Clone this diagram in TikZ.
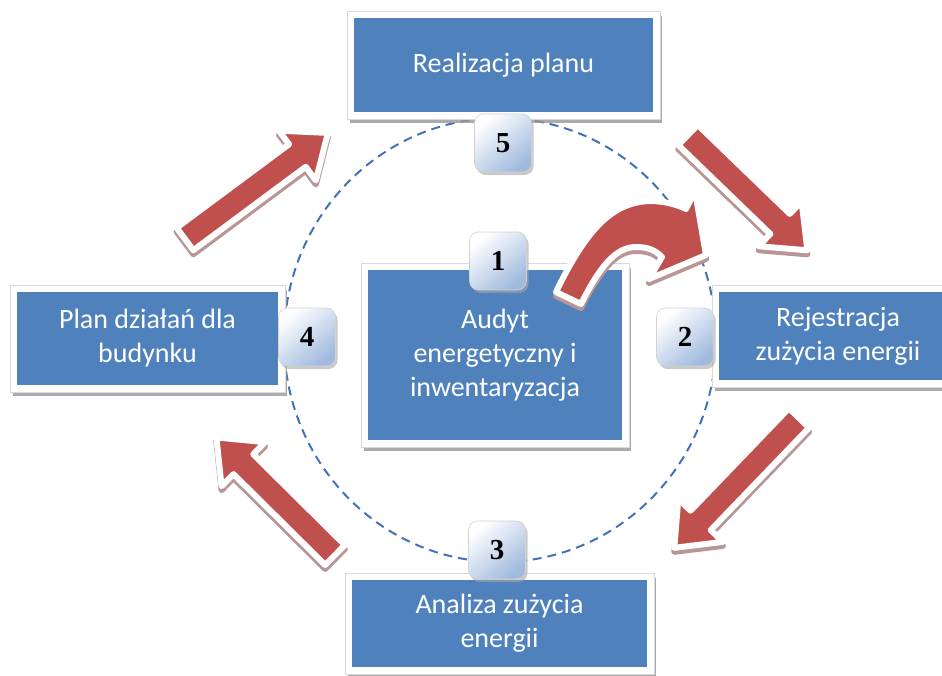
\documentclass[tikz,border=0pt]{standalone}
\usepackage{fontspec}
\setmainfont{Carlito}
\newfontfamily\numfont{Liberation Serif}
\usetikzlibrary{backgrounds,shadows}

\definecolor{boxblue}{RGB}{79,129,189}
\definecolor{arrowred}{RGB}{192,80,77}
\definecolor{ringblue}{RGB}{66,114,186}
\definecolor{badgeblue}{RGB}{160,186,222}
\definecolor{arrowshade}{RGB}{185,150,150}
\definecolor{frameshade}{RGB}{150,150,150}

% straight block arrow: #1 tail, #2 direction (degrees), #3 length
\newcommand\blockarrow[3]{%
  \foreach \layer/\dy in {shade/-4pt, main/0pt}{%
    \begin{scope}[shift={(#1)}, yshift=\dy, rotate=#2, x=1pt, y=1pt]
      \path[arrow\layer]
        (0,-14) -- ({#3-38},-14) -- ({#3-38},-31) -- (#3,0)
        -- ({#3-38},31) -- ({#3-38},14) -- (0,14) -- cycle;
    \end{scope}}}

% frame and drop shadow behind a box node
\newcommand\stageframe[1]{%
  \fill[frameshade, opacity=0.8] ([xshift=-4pt,yshift=2pt]#1.north west)
    rectangle ([xshift=9pt,yshift=-11pt]#1.south east);
  \filldraw[fill=white, draw=gray!30, line width=0.6pt]
    ([xshift=-7pt,yshift=7pt]#1.north west)
    rectangle ([xshift=7pt,yshift=-7pt]#1.south east);}

\begin{document}
\begin{tikzpicture}[x=1pt, y=-1pt,
  bluebox/.style={fill=boxblue, text=white, align=center, inner sep=0pt,
    font=\fontsize{28}{34}\selectfont},
  badge/.style={rounded corners=9pt, minimum width=57pt, minimum height=58pt,
    inner sep=0pt, draw=gray!35, line width=0.6pt,
    top color=white, bottom color=badgeblue, shading angle=40,
    drop shadow={shadow xshift=2pt, shadow yshift=-3pt, fill=gray!70, opacity=0.6},
    font=\numfont\bfseries\fontsize{29}{29}\selectfont},
  arrowmain/.style={fill=arrowred, draw=white, line width=6pt, line join=round},
  arrowshade/.style={fill=arrowshade, draw=arrowshade, line width=6pt, line join=round},
  ring/.style={draw=ringblue, line width=2pt, dash pattern=on 9pt off 6pt}]

\useasboundingbox (0,0) rectangle (942,675);

% the five stages
\node[bluebox, minimum width=299pt, minimum height=94pt] (realizacja) at (503.5,65) {Realizacja planu};
\node[bluebox, minimum width=254pt, minimum height=170pt] (audyt) at (495,355) {Audyt\\energetyczny i\\inwentaryzacja};
\node[bluebox, minimum width=261pt, minimum height=93pt] (plan) at (147.5,338.5) {Plan działań dla\\budynku};
\node[bluebox, minimum width=238pt, minimum height=88pt] (rejestracja) at (838,336) {Rejestracja\\zużycia energii};
\node[bluebox, minimum width=295pt, minimum height=87pt] (analiza) at (499.5,623.5) {Analiza zużycia\\energii};

\begin{scope}[on background layer]
  \draw[ring] (500,340) ellipse [x radius=216pt, y radius=222pt];
  \foreach \b in {realizacja, audyt, plan, rejestracja, analiza}{\stageframe{\b}}
\end{scope}

% step numbers
\node[badge] (n5) at (503,143) {5};
\node[badge] (n1) at (498,261) {1};
\node[badge] (n4) at (307,337) {4};
\node[badge] (n2) at (685,337) {2};
\node[badge] (n3) at (497,550) {3};

% cycle arrows
\blockarrow{185,239}{36.6}{178}
\blockarrow{688,135}{-44}{166}
\blockarrow{799,418}{-133.85}{180}
\blockarrow{335,555}{135.25}{167}

% curved arrow leaving the audit
\def\curvedarrow{(556,292) .. controls (586,230) and (612,202) .. (650,201)
  .. controls (665,201) and (678,205) .. (686,209) -- (695,191) -- (706,255)
  -- (649,279) -- (662,257) .. controls (655,250) and (648,247) .. (636,247)
  .. controls (616,247) and (600,266) .. (581,304) -- cycle}
\begin{scope}[yshift=-4pt]
  \path[arrowshade] \curvedarrow;
\end{scope}
\path[arrowmain] \curvedarrow;

\end{tikzpicture}
\end{document}
